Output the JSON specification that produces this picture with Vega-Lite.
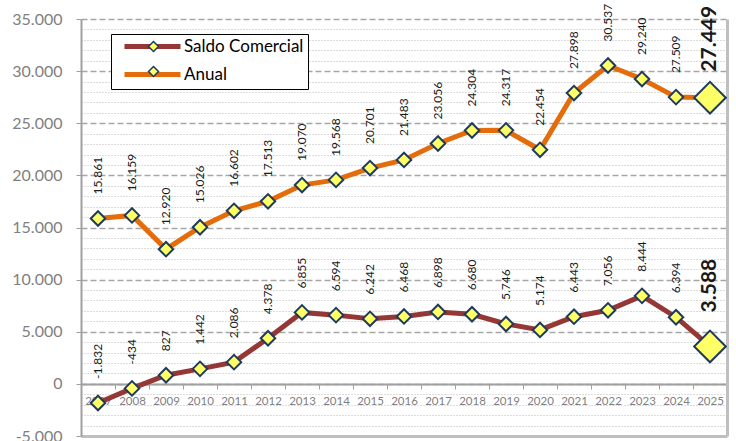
{
  "$schema": "https://vega.github.io/schema/vega-lite/v6.json",
  "width": 646,
  "height": 417,
  "autosize": "none",
  "padding": {"left": 81, "top": 19, "right": 9, "bottom": 5},
  "background": "white",
  "config": {
    "locale": {"number": {"decimal": ",", "thousands": ".", "grouping": [3], "currency": ["", ""], "minus": "-"}},
    "view": {"stroke": null},
    "font": "Lato"
  },
  "data": {
    "values": [
      {"year": "2007", "series": "Anual", "value": 15861},
      {"year": "2008", "series": "Anual", "value": 16159},
      {"year": "2009", "series": "Anual", "value": 12920},
      {"year": "2010", "series": "Anual", "value": 15026},
      {"year": "2011", "series": "Anual", "value": 16602},
      {"year": "2012", "series": "Anual", "value": 17513},
      {"year": "2013", "series": "Anual", "value": 19070},
      {"year": "2014", "series": "Anual", "value": 19568},
      {"year": "2015", "series": "Anual", "value": 20701},
      {"year": "2016", "series": "Anual", "value": 21483},
      {"year": "2017", "series": "Anual", "value": 23056},
      {"year": "2018", "series": "Anual", "value": 24304},
      {"year": "2019", "series": "Anual", "value": 24317},
      {"year": "2020", "series": "Anual", "value": 22454},
      {"year": "2021", "series": "Anual", "value": 27898},
      {"year": "2022", "series": "Anual", "value": 30537},
      {"year": "2023", "series": "Anual", "value": 29240},
      {"year": "2024", "series": "Anual", "value": 27509},
      {"year": "2025", "series": "Anual", "value": 27449},
      {"year": "2007", "series": "Saldo Comercial", "value": -1832},
      {"year": "2008", "series": "Saldo Comercial", "value": -434},
      {"year": "2009", "series": "Saldo Comercial", "value": 827},
      {"year": "2010", "series": "Saldo Comercial", "value": 1442},
      {"year": "2011", "series": "Saldo Comercial", "value": 2086},
      {"year": "2012", "series": "Saldo Comercial", "value": 4378},
      {"year": "2013", "series": "Saldo Comercial", "value": 6855},
      {"year": "2014", "series": "Saldo Comercial", "value": 6594},
      {"year": "2015", "series": "Saldo Comercial", "value": 6242},
      {"year": "2016", "series": "Saldo Comercial", "value": 6468},
      {"year": "2017", "series": "Saldo Comercial", "value": 6898},
      {"year": "2018", "series": "Saldo Comercial", "value": 6680},
      {"year": "2019", "series": "Saldo Comercial", "value": 5746},
      {"year": "2020", "series": "Saldo Comercial", "value": 5174},
      {"year": "2021", "series": "Saldo Comercial", "value": 6443},
      {"year": "2022", "series": "Saldo Comercial", "value": 7056},
      {"year": "2023", "series": "Saldo Comercial", "value": 8444},
      {"year": "2024", "series": "Saldo Comercial", "value": 6394},
      {"year": "2025", "series": "Saldo Comercial", "value": 3588}
    ]
  },
  "layer": [
    {
      "mark": {"type": "line", "strokeWidth": 5},
      "encoding": {
        "x": {
          "field": "year", "type": "ordinal",
          "scale": {"type": "band", "paddingInner": 0, "paddingOuter": 0},
          "axis": {"orient": "bottom", "offset": -52, "title": null, "labelAngle": 0, "labelFontSize": 11.5, "labelColor": "#7f7f7f", "labelPadding": 6, "tickBand": "extent", "tickSize": 5, "tickColor": "#a0a0a0", "domainColor": "#a0a0a0", "domainWidth": 2, "grid": false}
        },
        "y": {
          "field": "value", "type": "quantitative",
          "scale": {"domain": [-5000, 35000], "nice": false, "zero": false},
          "axis": {"title": null, "values": [-5000, 0, 5000, 10000, 15000, 20000, 25000, 30000, 35000], "format": ",d", "labelFontSize": 16, "labelColor": "#7f7f7f", "labelPadding": 14, "tickSize": 5, "tickColor": "#a0a0a0", "domainColor": "#a0a0a0", "domainWidth": 2, "grid": true, "gridDash": [6, 3], "gridColor": "#a6a6a6", "gridWidth": 1.3}
        },
        "color": {
          "field": "series", "type": "nominal",
          "scale": {"domain": ["Saldo Comercial", "Anual"], "range": ["#953735", "#e46c0a"]},
          "legend": {"orient": "none", "legendX": 30, "legendY": 15, "title": null, "symbolType": "M-1,0H8.333", "symbolSize": 144, "symbolStrokeWidth": 5, "symbolOffset": 7, "labelFontSize": 17, "labelColor": "black", "labelFont": "Lato", "labelOffset": 45, "labelExpr": "datum.label + '  '", "padding": 4, "rowPadding": 7, "strokeColor": "black", "fillColor": "white", "zindex": 0}
        }
      }
    },
    {
      "mark": {"type": "point", "filled": true, "fill": "#ffff66", "stroke": "#1f3a5f", "strokeWidth": 2, "opacity": 1},
      "encoding": {
        "x": {
          "field": "year", "type": "ordinal",
          "axis": {"orient": "bottom", "offset": 0, "title": null, "labels": false, "ticks": false, "grid": false, "domainColor": "#bfbfbf", "domainWidth": 3}
        },
        "y": {
          "field": "value", "type": "quantitative",
          "axis": {"orient": "left", "title": null, "labels": false, "ticks": false, "domain": false, "grid": true, "gridDash": [1, 2], "gridColor": "#b8b8b8", "gridWidth": 1,
            "values": [-4000, -3000, -2000, -1000, 1000, 2000, 3000, 4000, 6000, 7000, 8000, 9000, 11000, 12000, 13000, 14000, 16000, 17000, 18000, 19000, 21000, 22000, 23000, 24000, 26000, 27000, 28000, 29000, 31000, 32000, 33000, 34000]}
        },
        "shape": {
          "field": "series", "type": "nominal",
          "scale": {"domain": ["Anual", "Saldo Comercial"], "range": ["diamond", "diamond"]},
          "legend": {"orient": "none", "legendX": 60, "legendY": 15, "title": null, "symbolSize": 100, "labelFontSize": 17, "labelExpr": "''", "labelOffset": 4, "padding": 4, "rowPadding": 7, "zindex": 1,
            "encode": {"symbols": {"update": {"fill": {"value": "#ffff66"}, "stroke": {"value": "#1f3a5f"}, "strokeWidth": {"value": 2}, "opacity": {"value": 1}}}}}
        },
        "size": {"condition": {"test": "datum.year === '2025'", "value": 1000}, "value": 210}
      }
    },
    {
      "transform": [{"filter": "datum.year !== '2025'"}],
      "mark": {"type": "text", "angle": 270, "align": "left", "baseline": "middle", "dx": 24, "fontSize": 12, "font": "Lato", "color": "#1a1a1a"},
      "encoding": {
        "x": {"field": "year", "type": "ordinal", "axis": null},
        "y": {
          "field": "value", "type": "quantitative",
          "axis": {"orient": "right", "title": null, "labels": false, "ticks": false, "grid": false, "domainColor": "#bfbfbf", "domainWidth": 3}
        },
        "text": {"field": "value", "type": "quantitative", "format": ",d"}
      }
    },
    {
      "transform": [{"filter": "datum.year === '2025' && datum.series === 'Anual'"}],
      "mark": {"type": "text", "angle": 270, "align": "left", "baseline": "middle", "dx": 26, "fontSize": 21, "fontWeight": "bold", "font": "Lato", "color": "#1a1a1a"},
      "encoding": {
        "x": {"field": "year", "type": "ordinal", "axis": null},
        "y": {"field": "value", "type": "quantitative", "axis": null},
        "text": {"field": "value", "type": "quantitative", "format": ",d"}
      }
    },
    {
      "transform": [{"filter": "datum.year === '2025' && datum.series === 'Saldo Comercial'"}],
      "mark": {"type": "text", "angle": 270, "align": "left", "baseline": "middle", "dx": 34, "fontSize": 21, "fontWeight": "bold", "font": "Lato", "color": "#1a1a1a"},
      "encoding": {
        "x": {"field": "year", "type": "ordinal", "axis": null},
        "y": {"field": "value", "type": "quantitative", "axis": null},
        "text": {"field": "value", "type": "quantitative", "format": ",d"}
      }
    }
  ],
  "resolve": {"axis": {"x": "independent", "y": "independent"}}
}
